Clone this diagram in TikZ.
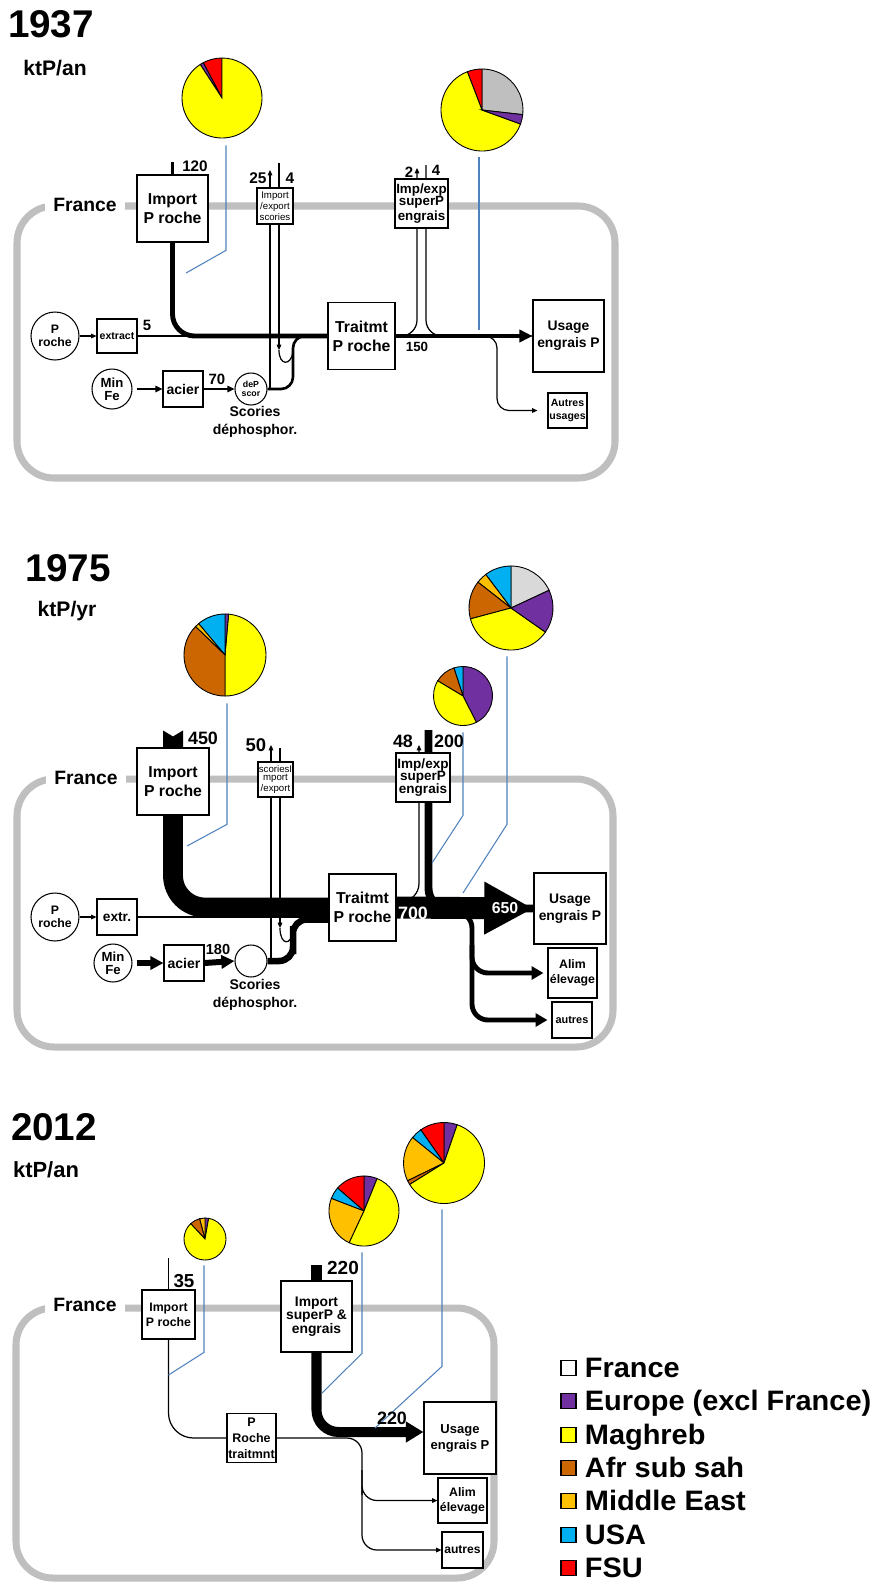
\documentclass[tikz,border=0pt]{standalone}
\usepackage{fontspec}
\setmainfont{Liberation Sans}
\usetikzlibrary{arrows.meta,backgrounds,calc}
\definecolor{cadre}{HTML}{BFBFBF}
\definecolor{bleu}{HTML}{4F81BD}
\definecolor{fra}{HTML}{BFBFBF}
\definecolor{fral}{HTML}{D9D9D9}
\definecolor{eur}{HTML}{7030A0}
\definecolor{mag}{HTML}{FFFF00}
\definecolor{afr}{HTML}{CC6600}
\definecolor{mid}{HTML}{FFC000}
\definecolor{usa}{HTML}{00B0F0}
\definecolor{fsu}{HTML}{FF0000}
\newlength{\pxl}
\setlength{\pxl}{0.02cm}
\tikzset{
  region/.style={draw=cadre,line width=4pt,rounded corners=21pt},
  box/.style={draw,fill=white,line width=0.6pt,align=center,inner sep=0pt},
  src/.style={circle,draw,fill=white,line width=0.6pt,align=center,inner sep=0pt},
  sz/.style 2 args={minimum width=#1\pxl,minimum height=#2\pxl},
  fs/.style 2 args={font=\bfseries\fontsize{#1}{#2}\selectfont},
  fsn/.style 2 args={font=\fontsize{#1}{#2}\selectfont},
  lab/.style={inner sep=0pt,align=center},
  country/.style={fill=white,inner xsep=5pt,inner ysep=2pt,fs={11}{13}},
  lead/.style={draw=bleu,line width=0.6pt},
  fine/.style={line width=0.7pt},
  finearr/.style={fine,-{Triangle[length=3pt,width=2.6pt]}},
  fl37/.style={line width=2.8pt},
  flS37/.style={line width=1.5pt},
  arr37/.style={line width=1.5pt,-{Triangle[length=4pt,width=3.6pt]}},
  fl75/.style={line width=11.3pt},
  flS75/.style={line width=3.7pt},
  fl200/.style={line width=4.5pt},
  band/.style={line width=12.5pt},
  arr75/.style={line width=3.4pt,-{Triangle[length=7.5pt,width=7.5pt]}},
  br75/.style={line width=2.8pt,-{Triangle[length=6.8pt,width=7.4pt]}},
  fl12/.style={line width=5.7pt},
}
\newcommand{\piechart}[4]{%
  \node[circle,minimum size={2*#3*0.02cm},inner sep=0pt] (#1) at #2 {};
  \foreach \a/\b/\c in {#4}{
    \filldraw[fill=\c,draw=black,line width=0.5pt] (#1.center) -- ++({-(\a)}:#3)
      arc[start angle={-(\a)},end angle={-(\b)},radius=#3] -- cycle;}
}

\begin{document}
\begin{tikzpicture}[x=0.02cm,y=-0.02cm]
  \useasboundingbox (0,0) rectangle (877,1587);

  % ---- 1937
  \node[lab,fs={22}{24}] (y37) at (51,24) {1937};
  \node[lab,fs={12}{14}] (u37) at (55,68) {ktP/an};
  \node[country] (fr37) at (85,205) {France};
  \node[box,sz={71}{67},fs={9}{10.4}] (imp37) at (172.5,208.5) {Import\\P roche};
  \node[box,sz={36}{36},fsn={5.5}{4.4}] (scx37) at (275,206) {Import\\/export\\scories};
  \node[box,sz={53}{49},fs={7.6}{7}] (spe37) at (421.5,203.5) {Imp/exp\\superP\\engrais};
  \node[src,minimum size=48\pxl,fs={7}{7.5}] (proc37) at (55,336) {P\\roche};
  \node[box,sz={40}{34},fs={6}{7}] (ext37) at (117,336) {extract};
  \node[box,sz={67}{67},fs={9}{10.8}] (trt37) at (361.5,336) {Traitmt\\P roche};
  \node[box,sz={71}{72},fs={7.9}{9.8}] (use37) at (568.5,336) {Usage\\engrais P};
  \node[box,sz={39}{35},fs={6}{7}] (aut37) at (567.5,410.5) {Autres\\usages};
  \node[src,minimum size=40\pxl,fs={7.5}{7.3}] (mfe37) at (112,389) {Min\\Fe};
  \node[box,sz={40}{36},fs={8}{9}] (aci37) at (183,389) {acier};
  \node[src,minimum size=32\pxl,fs={5}{4.8}] (dep37) at (251,389) {deP\\scor};
  \node[lab,fs={8}{10}] (sd37) at (255,422) {Scories\\déphosphor.};
  \node[lab,fs={8.7}{9}] (n120) at (195,166) {120};
  \node[lab,fs={8.5}{9}] (n5) at (147,325) {5};
  \node[lab,fs={8.5}{9}] (n70) at (217,379) {70};
  \node[lab,fs={8.8}{9}] (n25) at (258,178) {25};
  \node[lab,fs={8.8}{9}] (n4a) at (290,178) {4};
  \node[lab,fs={8.5}{9}] (n2) at (409,172) {2};
  \node[lab,fs={8.5}{9}] (n4b) at (436,170) {4};
  \node[lab,fs={7.6}{9}] (n150) at (417,347) {150};
  \coordinate (s120) at (172.5,162);
  \coordinate (s25) at (270,170);
  \coordinate (s4a) at (279,163);
  \coordinate (s2) at (417,168);
  \coordinate (s4b) at (426,165);
  \coordinate (b37) at (480,336);
  \piechart{pA}{(222,98)}{40}{90/118/fsu,118/123/eur,123/450/mag}
  \piechart{pB}{(482,110)}{41}{-6.5/90/fra,90/111/fsu,111/340/mag,340/353.5/eur}

  % ---- 1975
  \node[lab,fs={22}{24}] (y75) at (68,568) {1975};
  \node[lab,fs={12}{14}] (u75) at (67,611) {ktP/yr};
  \node[country] (fr75) at (86,778) {France};
  \node[box,sz={72}{67},fs={9}{10.4}] (imp75) at (173,781.5) {Import\\P roche};
  \node[box,sz={35}{35},fsn={5.5}{4.4}] (sc75) at (275.5,779.5) {scoriesI\\mport\\/export};
  \node[box,sz={54}{49},fs={7.7}{7.3}] (spe75) at (423,777.5) {Imp/exp\\superP\\engrais};
  \node[src,minimum size=48\pxl,fs={7}{7.5}] (proc75) at (55,917) {P\\roche};
  \node[box,sz={40}{36},fs={7.8}{8}] (ext75) at (117,917) {extr.};
  \node[box,sz={67}{67},fs={9}{10.8}] (trt75) at (362.5,907.5) {Traitmt\\P roche};
  \node[box,sz={72}{71},fs={7.9}{9.8}] (use75) at (570,908.5) {Usage\\engrais P};
  \node[box,sz={49}{50},fs={7}{8.8}] (alim75) at (572.5,973) {Alim\\élevage};
  \node[box,sz={40}{36},fs={6.2}{7}] (aut75) at (572,1020) {autres};
  \node[src,minimum size=38\pxl,fs={7.5}{7.3}] (mfe75) at (113,963) {Min\\Fe};
  \node[box,sz={40}{36},fs={8}{9}] (aci75) at (184,963) {acier};
  \node[src,minimum size=32\pxl] (dep75) at (251,961) {};
  \node[lab,fs={8}{10}] (sd75) at (255,995) {Scories\\déphosphor.};
  \node[lab,fs={10.2}{11}] (n450) at (203,738) {450};
  \node[lab,fs={10.5}{11}] (n50) at (256,745) {50};
  \node[lab,fs={10.2}{11}] (n48) at (403,741) {48};
  \node[lab,fs={10.2}{11}] (n200) at (449,741) {200};
  \node[lab,fs={8.3}{9}] (n180) at (218,949) {180};
  \node[lab,fs={10.2}{11},text=white] (n700) at (413,913) {700};
  \node[lab,fs={9}{10},text=white] (n650) at (505,908) {650};
  \coordinate (s50) at (271,745);
  \coordinate (s5i) at (280,748);
  \coordinate (s48) at (419,745);
  \coordinate (s200) at (428.5,730);
  \coordinate (b75) at (450,912);
  \coordinate (b75b) at (472,945);
  \piechart{pC}{(225,655)}{41}{-90/85/mag,85/90/eur,90/130/usa,130/136/mid,136/270/afr}
  \piechart{pD}{(463,696)}{29.5}{-63/90/eur,90/108/usa,108/149/afr,149/297/mag}
  \piechart{pE}{(511,608)}{42}{25/90/fral,90/127/usa,127/142/mid,142/195/afr,195/325/mag,325/385/eur}

  % ---- 2012
  \node[lab,fs={22}{24}] (y12) at (54,1127) {2012};
  \node[lab,fs={12.5}{14}] (u12) at (46,1170) {ktP/an};
  \node[country] (fr12) at (85,1305) {France};
  \node[box,sz={53}{49},fs={7}{8.5}] (imp12) at (168.5,1314.5) {Import\\P roche};
  \node[box,sz={71}{71},fs={7.9}{7.7}] (spe12) at (316.5,1316.5) {Import\\superP \&\\engrais};
  \node[box,sz={49}{49},fs={7.1}{9}] (prt12) at (251.5,1438) {P\\Roche\\traitmnt};
  \node[box,sz={72}{72},fs={7.4}{9}] (use12) at (460,1438) {Usage\\engrais P};
  \node[box,sz={49}{45},fs={7}{8.5}] (alim12) at (462.5,1500.5) {Alim\\élevage};
  \node[box,sz={41}{36},fs={6.9}{7}] (aut12) at (462.5,1550) {autres};
  \node[lab,fs={10.7}{11}] (n35) at (184,1281) {35};
  \node[lab,fs={10.8}{11}] (n220a) at (343,1268) {220};
  \node[lab,fs={10.2}{11}] (n220b) at (392,1418) {220};
  \coordinate (s35) at (168.5,1258);
  \coordinate (s220) at (316.5,1265);
  \coordinate (b12) at (362,1470);
  \piechart{pF}{(205,1239)}{21}{80/90/eur,90/105/mid,105/133/afr,133/440/mag}
  \piechart{pG}{(364,1211)}{35}{68/90/eur,90/139/fsu,139/159/usa,159/245/mid,245/428/mag}
  \piechart{pH}{(444,1163)}{40.5}{71/90/eur,90/125/fsu,125/141/usa,141/206/mid,206/212/afr,212/431/mag}

  % legend
  \foreach \c/\t [count=\i] in {white/France,eur/Europe (excl France),mag/Maghreb,afr/Afr sub sah,mid/Middle East,usa/USA,fsu/FSU}{
    \node[draw,fill=\c,minimum size=15\pxl,inner sep=0pt,line width=0.6pt] (k\i) at (568.5,{1368+(\i-1)*33.33}) {};
    \node[anchor=base west,inner sep=0pt,fs={16}{18}] (t\i) at ($(k\i.east)+(8,9.5)$) {\scalebox{1.03}[1]{\t}};
  }

  \begin{pgfonlayer}{background}
    % frames
    \draw[region] (17,206) rectangle (615,478);
    \draw[region] (17,779) rectangle (613,1047);
    \draw[region] (16,1308) rectangle (494,1578);

    % 1937 flows
    \draw[fine] (ext37.east) -- (trt37.west);
    \draw[finearr] (proc37.east) -- (ext37.west);
    \draw[finearr] (s25 |- dep37.east) -- (s25);
    \draw[finearr] (s4a) -- (279,350);
    \draw[fine] (279,350) .. controls (279,366) and (291,366) .. (293,352);
    \draw[flS37,rounded corners=12\pxl] (dep37.east) -| (293,360) |- (trt37.west);
    \draw[fl37,rounded corners=22\pxl] (imp37.south) |- (trt37.west);
    \draw[line width=1.9pt] (s120) -- (imp37.north);
    \draw[arr37,shorten <=4\pxl] (mfe37.east) -- (aci37.west);
    \draw[arr37] (aci37.east) -- (dep37.west);
    \draw[finearr,rounded corners=16\pxl] (trt37.east) -| (s2);
    \draw[fine,rounded corners=16\pxl] (s4b) |- (use37.west);
    \draw[fl37,-{Triangle[length=7.5pt,width=7pt]}] (trt37.east) -- (use37.west);
    \draw[finearr,rounded corners=12\pxl,shorten >=10\pxl] (b37) -| (497,380) |- (aut37.west);

    % 1975 flows
    \draw[fine] (ext75.east) -- (ext75.east -| trt75.west);
    \draw[finearr] (proc75.east) -- (ext75.west);
    \draw[finearr] (s50 |- dep75.east) -- (s50);
    \draw[finearr] (s5i) -- (280,928);
    \draw[fine] (280,928) .. controls (280,946) and (292,946) .. (293,930);
    \draw[flS75,rounded corners=14\pxl] (dep75.east) -| (293,940) |- ([yshift=-12\pxl]trt75.west);
    \draw[fl75,rounded corners=32\pxl] (imp75.south) |- (trt75.west);
    \fill (imp75.north) ++(-10,0) -- ++(0,-17) -- ++(10,6) -- ++(10,-6) -- ++(0,17) -- cycle;
    \draw[arr75,shorten <=4\pxl] (mfe75.east) -- (aci75.west);
    \draw[arr75] (aci75.east) -- (dep75.west);
    \draw[finearr,rounded corners=18\pxl] ([yshift=6\pxl]trt75.east) -| (s48);
    \draw[fl200,rounded corners=20\pxl] (s200) |- (use75.west);
    \draw[band,-{Triangle[length=28pt,width=28pt]}] (trt75.east) -- (use75.west);
    \draw[br75,rounded corners=16\pxl,shorten >=4\pxl] (b75) -| (472,990) |- (aut75.west);
    \draw[br75,rounded corners=16\pxl,shorten >=4\pxl] (b75b) |- (alim75.west);

    % 2012 flows
    \draw[fine] (s35) -- (imp12.north);
    \draw[fine,rounded corners=25\pxl] (imp12.south) |- (prt12.west);
    \draw[finearr,rounded corners=15\pxl] (prt12.east) -| (362,1480) |- (alim12.west);
    \draw[finearr,rounded corners=15\pxl] (b12) |- (aut12.west);
    \draw[fl12] (s220) -- (spe12.north);
    \draw[fl12,rounded corners=22\pxl,-{Triangle[length=10pt,width=11.3pt]}] (spe12.south) |- ([yshift=6\pxl]use12.west);

    % leaders from the pies
    \draw[lead] ($(pA.south)+(4,7)$) -- ++(0,105) -- (186,273);
    \draw[lead] ($(pB.south)+(-3,6)$) -- (479,330);
    \draw[lead] ($(pC.south)+(2,7)$) -- ++(0,121) -- (187,846);
    \draw[lead] ($(pD.south)+(0,6.5)$) -- ++(0,83) -- (432,863);
    \draw[lead] ($(pE.south)+(-4,6)$) -- ++(0,168) -- (463,893);
    \draw[lead] ($(pF.south)+(-1,5)$) -- ++(0,87) -- (168.5,1375);
    \draw[lead] ($(pG.south)+(-2,6)$) -- ++(0,101) -- (322,1393);
    \draw[lead] ($(pH.south)+(-2,5.5)$) -- ++(0,157) -- (375,1428);
  \end{pgfonlayer}
\end{tikzpicture}
\end{document}
